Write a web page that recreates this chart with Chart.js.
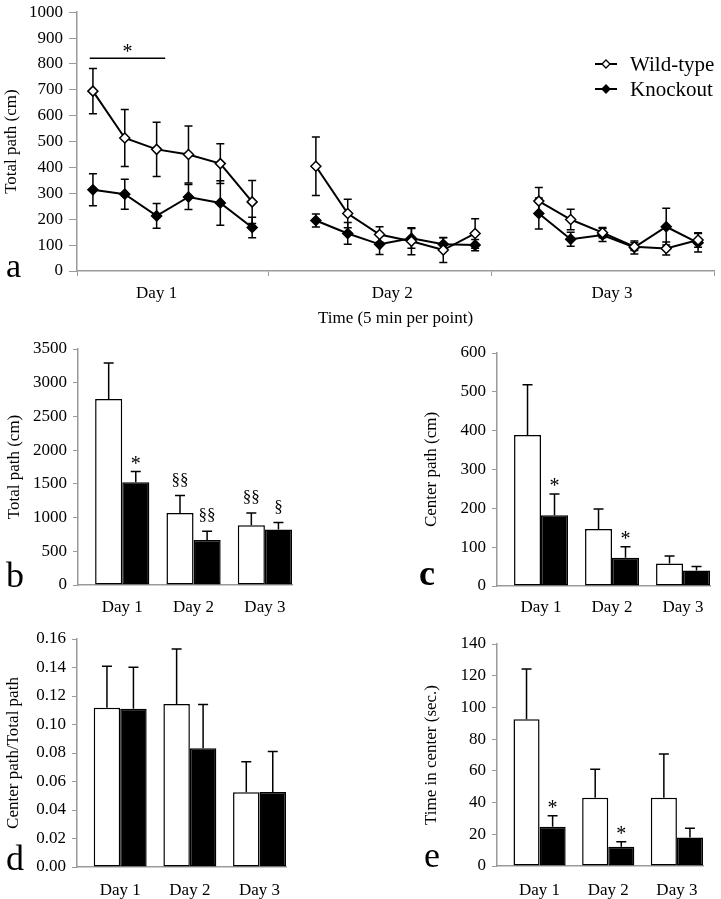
<!DOCTYPE html>
<html>
<head>
<meta charset="utf-8">
<title>Open field activity</title>
<script src="https://cdn.jsdelivr.net/npm/chart.js@4.4.1/dist/chart.umd.min.js"></script>
<style>
  body { margin: 0; background: #fff; }
  #fig { position: relative; width: 721px; height: 899px; overflow: hidden; background: #fff;
         font-family: 'Liberation Serif', 'Times New Roman', serif; color: #000; }
  #fig canvas { position: absolute; }
  .panel { position: absolute; line-height: 1; }
</style>
</head>
<body>
<div id="fig">
  <canvas id="chartA" width="721" height="339" style="left:0;top:-4px"></canvas>
  <canvas id="chartB" width="360" height="300" style="left:0;top:330px"></canvas>
  <canvas id="chartC" width="361" height="300" style="left:360px;top:330px"></canvas>
  <canvas id="chartD" width="360" height="279" style="left:0;top:620px"></canvas>
  <canvas id="chartE" width="361" height="279" style="left:360px;top:620px"></canvas>
  <div class="panel" style="left:6px;top:249px;font-size:34px">a</div>
  <div class="panel" style="left:6px;top:557px;font-size:36px">b</div>
  <div class="panel" style="left:419px;top:555px;font-size:36px;font-weight:bold">c</div>
  <div class="panel" style="left:6px;top:840px;font-size:36px">d</div>
  <div class="panel" style="left:424px;top:837px;font-size:36px">e</div>
</div>
<script>
const FONT = "'Liberation Serif', 'Times New Roman', serif";
const AXIS = '#9a9a9a';

// panel a: 5-min bins, empty slot between days
const timeSlots = ['1', '2', '3', '4', '5', '6', '', '1', '2', '3', '4', '5', '6', '', '1', '2', '3', '4', '5', '6'];
const dayLabels = ['Day 1', 'Day 2', 'Day 3'];
const dayLabelPos = [2.5, 9.9, 16.8];
const dayBounds = [0, 6, 13, 20];
const wtPath = [695, 514, 470, 450, 415, 267, null, 405, 222, 141, 115, 81, 145, null, 270, 199, 148, 94, 87, 120];
const wtPathSem = [87, 110, 105, 110, 77, 83, null, 113, 55, 30, 52, 48, 57, null, 53, 40, 20, 15, 25, 28];
const koPath = [314, 297, 213, 286, 263, 168, null, 195, 145, 103, 126, 103, 100, null, 222, 123, 139, 91, 171, 109];
const koPathSem = [62, 58, 48, 48, 86, 40, null, 25, 42, 39, 38, 25, 22, null, 60, 27, 25, 25, 71, 36];

// panels b-e
const days = ['Day 1', 'Day 2', 'Day 3'];
const wtTotal = [2757, 1069, 886];
const wtTotalSem = [535, 258, 183];
const koTotal = [1525, 668, 822];
const koTotalSem = [158, 129, 104];
const wtTotalMarks = ['', '§§', '§§'];
const koTotalMarks = ['*', '§§', '§'];

const wtCenter = [389, 147, 58];
const wtCenterSem = [129, 51, 19];
const koCenter = [182, 73, 40];
const koCenterSem = [55, 28, 10];
const koCenterMarks = ['*', '*', ''];

const wtRatio = [0.1117, 0.1143, 0.0525];
const wtRatioSem = [0.0291, 0.0387, 0.0213];
const koRatio = [0.1110, 0.0834, 0.0527];
const koRatioSem = [0.0291, 0.0307, 0.0283];

const wtTime = [92.5, 43.1, 43.1];
const wtTimeSem = [31.7, 17.9, 27.5];
const koTime = [24.8, 12.2, 17.9];
const koTimeSem = [6.9, 3.1, 5.9];
const koTimeMarks = ['*', '*', ''];

Chart.defaults.font.family = FONT;
Chart.defaults.font.size = 17;
Chart.defaults.color = '#000';

const yValue = d => (d !== null && typeof d === 'object') ? d.y : d;

const errorBars = {
  id: 'errorBars',
  beforeDatasetsDraw(chart, args, opts) {
    const ctx = chart.ctx;
    chart.data.datasets.forEach((ds, di) => {
      if (!ds.errors) return;
      const meta = chart.getDatasetMeta(di);
      const yScale = chart.scales[meta.yAxisID];
      const half = opts.cap / 2;
      ctx.save();
      ctx.strokeStyle = '#000';
      ctx.lineWidth = opts.width;
      meta.data.forEach((el, i) => {
        const v = yValue(ds.data[i]);
        const e = ds.errors[i];
        if (v == null || e == null) return;
        const top = yScale.getPixelForValue(v + e);
        const bot = opts.both ? yScale.getPixelForValue(v - e) : el.y;
        ctx.beginPath();
        ctx.moveTo(el.x, bot);
        ctx.lineTo(el.x, top);
        ctx.moveTo(el.x - half, top);
        ctx.lineTo(el.x + half, top);
        if (opts.both) {
          ctx.moveTo(el.x - half, bot);
          ctx.lineTo(el.x + half, bot);
        }
        ctx.stroke();
      });
      ctx.restore();
    });
  }
};

const sigMarks = {
  id: 'sigMarks',
  afterDatasetsDraw(chart) {
    const ctx = chart.ctx;
    chart.data.datasets.forEach((ds, di) => {
      if (!ds.marks) return;
      const meta = chart.getDatasetMeta(di);
      const yScale = chart.scales[meta.yAxisID];
      ctx.save();
      ctx.fillStyle = '#000';
      ctx.textAlign = 'center';
      ctx.textBaseline = 'alphabetic';
      meta.data.forEach((el, i) => {
        const m = ds.marks[i];
        if (!m) return;
        const top = yScale.getPixelForValue(yValue(ds.data[i]) + ds.errors[i]);
        const para = m.indexOf('§') >= 0;
        ctx.font = (para ? '17px ' : '20px ') + FONT;
        ctx.fillText(m, el.x, top - (para ? 11 : 1.5));
      });
      ctx.restore();
    });
  }
};

// bracket with asterisk over the first bins of day 1
const sigLine = {
  id: 'sigLine',
  afterDatasetsDraw(chart, args, o) {
    const ctx = chart.ctx;
    const xs = chart.scales.xDays, ys = chart.scales.y;
    const y = ys.getPixelForValue(o.value);
    const x1 = xs.getPixelForValue(o.from), x2 = xs.getPixelForValue(o.to);
    ctx.save();
    ctx.strokeStyle = '#000';
    ctx.lineWidth = 1.5;
    ctx.beginPath();
    ctx.moveTo(x1, y);
    ctx.lineTo(x2, y);
    ctx.stroke();
    ctx.fillStyle = '#000';
    ctx.font = '20px ' + FONT;
    ctx.textAlign = 'center';
    ctx.textBaseline = 'alphabetic';
    ctx.fillText(o.text, (x1 + x2) / 2, y - 0.5);
    ctx.restore();
  }
};

const lineLegend = {
  id: 'lineLegend',
  afterDraw(chart, args, o) {
    const ctx = chart.ctx;
    chart.data.datasets.forEach((ds, i) => {
      const y = o.y + i * o.rowGap;
      const cx = o.x + o.lineLen / 2;
      ctx.save();
      ctx.strokeStyle = '#000';
      ctx.lineWidth = 2;
      ctx.beginPath();
      ctx.moveTo(o.x, y);
      ctx.lineTo(o.x + o.lineLen, y);
      ctx.stroke();
      ctx.beginPath();
      ctx.moveTo(cx - 4, y);
      ctx.lineTo(cx, y - 4);
      ctx.lineTo(cx + 4, y);
      ctx.lineTo(cx, y + 4);
      ctx.closePath();
      ctx.fillStyle = ds.pointBackgroundColor;
      ctx.fill();
      ctx.lineWidth = 1.3;
      ctx.stroke();
      ctx.fillStyle = '#000';
      ctx.font = '21px ' + FONT;
      ctx.textAlign = 'left';
      ctx.textBaseline = 'middle';
      ctx.fillText(ds.label, o.x + o.lineLen + o.textGap, y + 1);
      ctx.restore();
    });
  }
};

new Chart(document.getElementById('chartA'), {
  type: 'line',
  data: {
    labels: timeSlots,
    datasets: [
      { label: 'Wild-type', data: wtPath, errors: wtPathSem, xAxisID: 'x',
        borderColor: '#000', borderWidth: 2, pointStyle: 'rectRot', pointRadius: 5,
        pointBackgroundColor: '#fff', pointBorderColor: '#000', pointBorderWidth: 1.5, spanGaps: false },
      { label: 'Knockout', data: koPath, errors: koPathSem, xAxisID: 'x',
        borderColor: '#000', borderWidth: 2, pointStyle: 'rectRot', pointRadius: 5,
        pointBackgroundColor: '#000', pointBorderColor: '#000', pointBorderWidth: 1.5, spanGaps: false }
    ]
  },
  options: {
    animation: false,
    responsive: false,
    layout: { padding: { left: 0, top: 16, right: 1, bottom: 6 } },
    plugins: {
      legend: { display: false },
      tooltip: { enabled: false },
      errorBars: { cap: 8, width: 1.5, both: true },
      sigLine: { from: 0.4, to: 2.77, value: 822, text: '*' },
      lineLegend: { x: 595, y: 68, rowGap: 25, lineLen: 22, textGap: 13 }
    },
    scales: {
      x: { type: 'category', display: false, offset: true },
      xDays: {
        type: 'linear', position: 'bottom', min: 0, max: timeSlots.length,
        afterBuildTicks: s => {
          s.ticks = dayBounds.concat(dayLabelPos).sort((a, b) => a - b).map(v => ({ value: v }));
        },
        afterFit: s => { s.height = 58; },
        grid: {
          drawOnChartArea: false, tickLength: 5, color: AXIS,
          tickColor: c => dayBounds.includes(c.tick.value) ? AXIS : 'rgba(0,0,0,0)'
        },
        border: { color: AXIS, width: 1.5 },
        ticks: {
          padding: 7, autoSkip: false, maxRotation: 0,
          callback: v => { const k = dayLabelPos.indexOf(v); return k >= 0 ? dayLabels[k] : ''; }
        },
        title: { display: true, text: 'Time (5 min per point)', padding: { top: 0, bottom: 0 } }
      },
      y: {
        min: 0, max: 1000,
        afterFit: s => { s.width = 77; },
        ticks: { stepSize: 100, padding: 6, callback: v => String(v) },
        grid: { drawOnChartArea: false, tickLength: 8, color: AXIS },
        border: { color: AXIS, width: 1.5 },
        title: { display: true, text: 'Total path (cm)', padding: { top: 1, bottom: 0 } }
      }
    }
  },
  plugins: [errorBars, sigLine, lineLegend]
});

function barChart(id, p) {
  const pts = arr => arr.map((v, i) => ({ x: i, y: v }));
  return new Chart(document.getElementById(id), {
    type: 'bar',
    data: {
      datasets: [
        { label: 'Wild-type', data: pts(p.wt), errors: p.wtErr, marks: p.wtMarks,
          backgroundColor: '#fff', borderColor: '#000', borderWidth: 1.5, borderSkipped: false },
        { label: 'Knockout', data: pts(p.ko), errors: p.koErr, marks: p.koMarks,
          backgroundColor: '#000', borderColor: '#000', borderWidth: 1.5, borderSkipped: false }
      ]
    },
    options: {
      animation: false,
      responsive: false,
      layout: { padding: p.pad },
      datasets: { bar: { categoryPercentage: 0.76, barPercentage: 1 } },
      plugins: {
        legend: { display: false },
        tooltip: { enabled: false },
        errorBars: { cap: 10, width: 1.5, both: false }
      },
      scales: {
        x: {
          type: 'linear', offset: false, min: -0.62, max: days.length - 0.62,
          afterBuildTicks: s => { s.ticks = days.map((d, i) => ({ value: i })); },
          afterFit: s => { s.height = p.xH; },
          grid: { display: false, offset: false },
          border: { color: AXIS, width: 1.5 },
          ticks: { padding: p.xPad, autoSkip: false, maxRotation: 0, callback: (v, i) => days[i] }
        },
        y: {
          min: 0, max: p.yMax,
          afterFit: s => { s.width = p.yW; },
          ticks: { stepSize: p.yStep, padding: 6, callback: p.yFmt || (v => String(v)) },
          grid: { drawOnChartArea: false, tickLength: 5, color: AXIS },
          border: { color: AXIS, width: 1.5 },
          title: { display: true, text: p.yTitle, padding: { top: p.titlePad, bottom: 0 } }
        }
      }
    },
    plugins: [errorBars, sigMarks]
  });
}

barChart('chartB', {
  wt: wtTotal, wtErr: wtTotalSem, wtMarks: wtTotalMarks,
  ko: koTotal, koErr: koTotalSem, koMarks: koTotalMarks,
  yMax: 3500, yStep: 500, yTitle: 'Total path (cm)',
  pad: { left: 0, top: 19, right: 68, bottom: 5 }, yW: 78, titlePad: 4.8, xH: 40, xPad: 4
});

barChart('chartC', {
  wt: wtCenter, wtErr: wtCenterSem, wtMarks: null,
  ko: koCenter, koErr: koCenterSem, koMarks: koCenterMarks,
  yMax: 600, yStep: 100, yTitle: 'Center path (cm)',
  pad: { left: 55, top: 23, right: 11, bottom: 4 }, yW: 82, titlePad: 6.8, xH: 40, xPad: 3.5
});

barChart('chartD', {
  wt: wtRatio, wtErr: wtRatioSem, wtMarks: null,
  ko: koRatio, koErr: koRatioSem, koMarks: null,
  yMax: 0.16, yStep: 0.02, yFmt: v => v.toFixed(2), yTitle: 'Center path/Total path',
  pad: { left: 0, top: 19, right: 74, bottom: 0 }, yW: 77, titlePad: 3.3, xH: 32, xPad: 5.5
});

barChart('chartE', {
  wt: wtTime, wtErr: wtTimeSem, wtMarks: null,
  ko: koTime, koErr: koTimeSem, koMarks: koTimeMarks,
  yMax: 140, yStep: 20, yTitle: 'Time in center (sec.)',
  pad: { left: 55, top: 24, right: 18, bottom: 0 }, yW: 82, titlePad: 6.3, xH: 33, xPad: 6
});
</script>
</body>
</html>
